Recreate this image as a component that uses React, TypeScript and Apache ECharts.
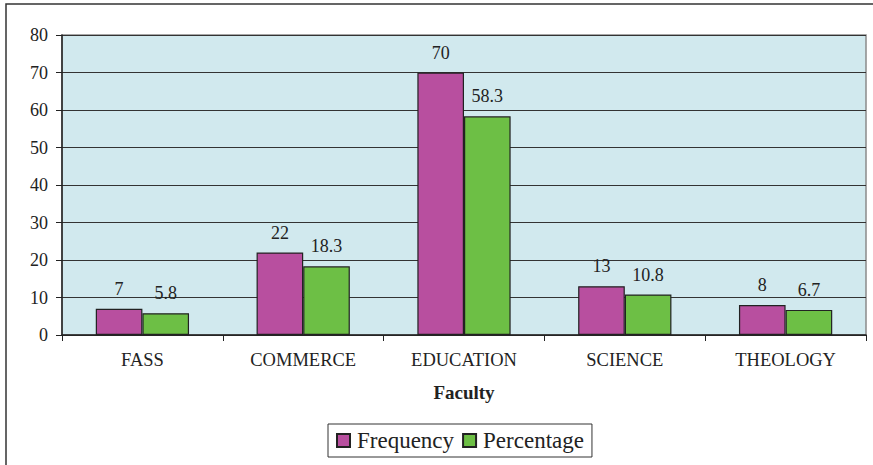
import React, { useEffect, useRef } from "react";
import * as echarts from "echarts";

const categories = ["FASS", "COMMERCE", "EDUCATION", "SCIENCE", "THEOLOGY"];
const frequency = [7, 22, 70, 13, 8];
const percentage = [5.8, 18.3, 58.3, 10.8, 6.7];
const seriesNames = ["Frequency", "Percentage"];
const axisName = "Faculty";

const FONT = "Liberation Serif";

export default function App() {
  const ref = useRef<HTMLDivElement>(null);
  useEffect(() => {
    if (!ref.current) return;
    const chart = echarts.init(ref.current, undefined, { renderer: "svg" });
    const labelStyle = {
      show: true,
      position: "top" as const,
      distance: 11,
      color: "#222",
      fontFamily: FONT,
      fontSize: 18,
    };
    chart.setOption({
      animation: false,
      textStyle: { fontFamily: FONT },
      graphic: [
        {
          type: "rect",
          shape: { x: 6, y: 4, width: 1000, height: 1000 },
          style: { fill: "none", stroke: "#333", lineWidth: 1.5 },
          silent: true,
          z: 100,
        },
      ],
      grid: {
        left: 62,
        right: 7,
        top: 35,
        bottom: 130,
        show: true,
        backgroundColor: "#d1e9ee",
        borderColor: "#8a8a8a",
        borderWidth: 1.5,
      },
      legend: {
        left: 328,
        top: 424,
        itemWidth: 13,
        itemHeight: 13,
        itemGap: 8,
        icon: "rect",
        borderColor: "#333",
        borderWidth: 1,
        padding: [5, 8, 5, 8],
        textStyle: { fontFamily: FONT, fontSize: 23, color: "#222", padding: [0, 0, 0, 2] },
        data: seriesNames,
      },
      xAxis: {
        type: "category",
        data: categories,
        name: axisName,
        nameLocation: "middle",
        nameGap: 48,
        nameTextStyle: {
          fontFamily: FONT,
          fontWeight: "bold",
          fontSize: 19,
          color: "#222",
        },
        axisLine: { lineStyle: { color: "#222", width: 1.5 } },
        axisTick: { show: true, length: 6, lineStyle: { color: "#222" } },
        axisLabel: {
          fontFamily: FONT,
          fontSize: 18.5,
          color: "#222",
          margin: 15,
        },
      },
      yAxis: {
        type: "value",
        min: 0,
        max: 80,
        interval: 10,
        axisLine: { show: true, lineStyle: { color: "#222", width: 1.5 } },
        axisTick: { show: true, length: 6, lineStyle: { color: "#222" } },
        axisLabel: {
          fontFamily: FONT,
          fontSize: 18,
          color: "#222",
          margin: 14,
        },
        splitLine: { lineStyle: { color: "#333", width: 1 } },
      },
      series: [
        {
          name: seriesNames[0],
          type: "bar",
          data: frequency,
          barWidth: "29%",
          barGap: "0%",
          itemStyle: { color: "#b84f9f", borderColor: "#222", borderWidth: 1.2 },
          label: labelStyle,
        },
        {
          name: seriesNames[1],
          type: "bar",
          data: percentage,
          barWidth: "29%",
          itemStyle: { color: "#6dbf45", borderColor: "#222", borderWidth: 1.2 },
          label: labelStyle,
        },
      ],
    });
    return () => chart.dispose();
  }, []);
  return <div ref={ref} style={{ width: 873, height: 465, position: "absolute", left: 0, top: 0 }} />;
}
